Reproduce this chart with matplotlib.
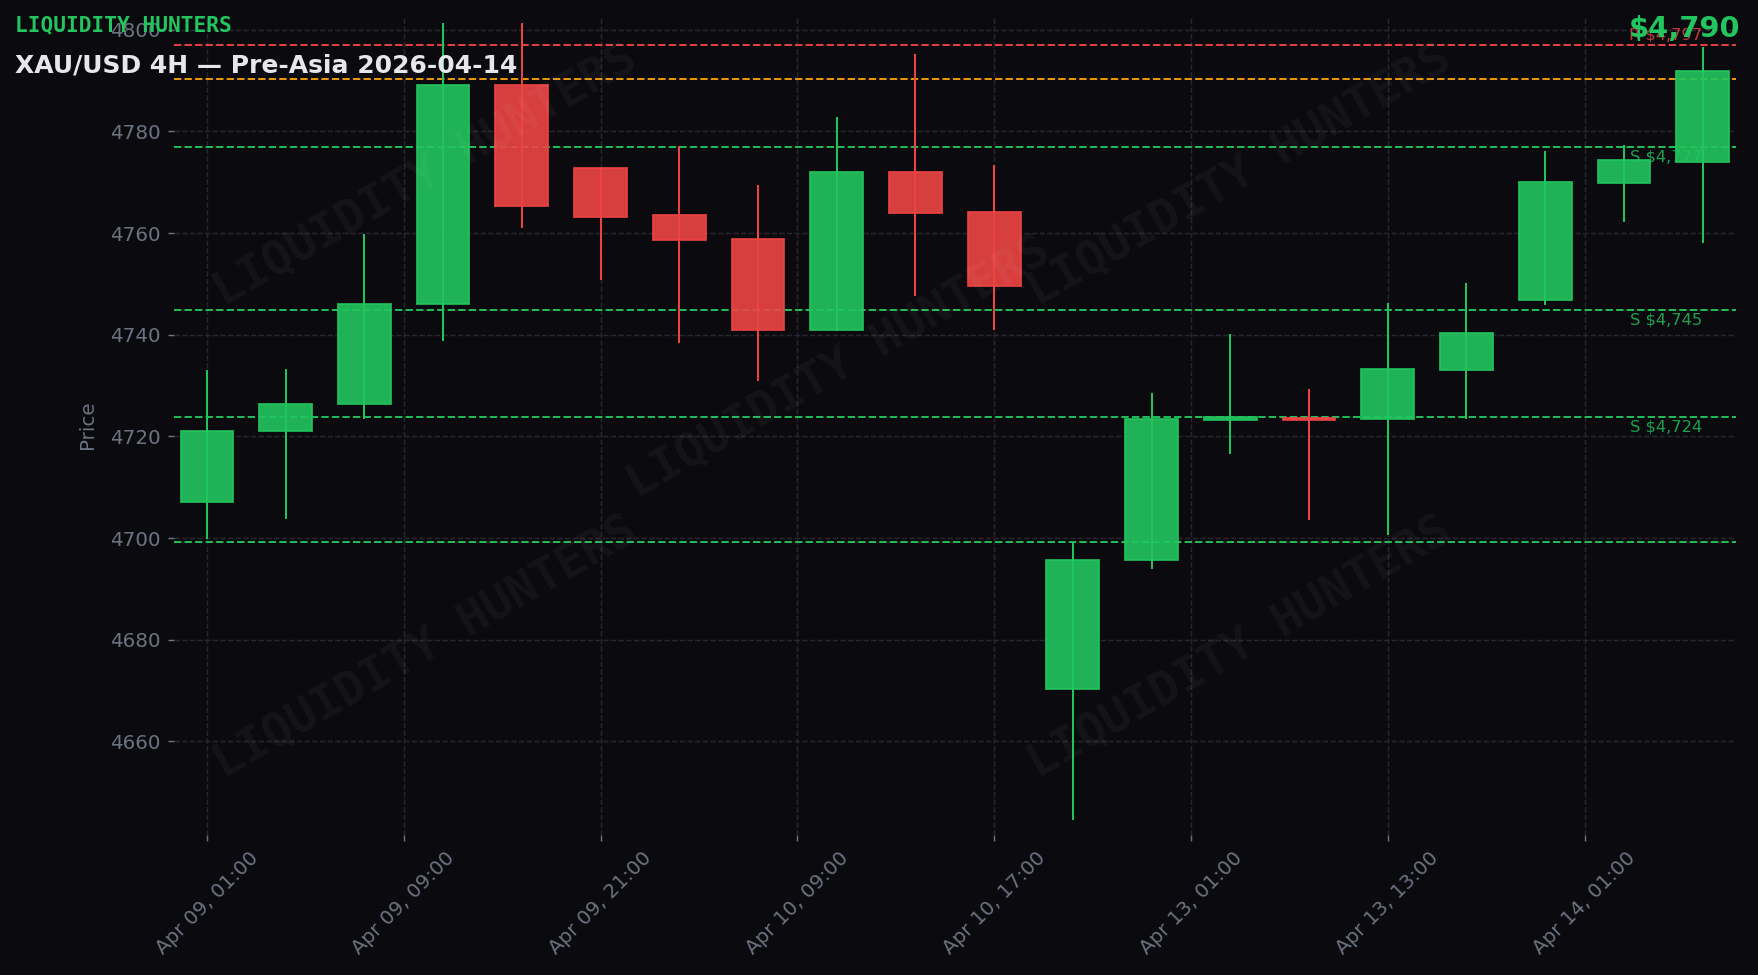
import matplotlib
matplotlib.use("Agg")
import matplotlib.pyplot as plt
from matplotlib.patches import Rectangle
from matplotlib.ticker import MultipleLocator, FuncFormatter

# 4H candles, XAU/USD (weekend gap removed, integer x positions)
times = [
    "Apr 09, 01:00", "Apr 09, 05:00", "Apr 09, 09:00", "Apr 09, 13:00",
    "Apr 09, 17:00", "Apr 09, 21:00", "Apr 10, 01:00", "Apr 10, 05:00",
    "Apr 10, 09:00", "Apr 10, 13:00", "Apr 10, 17:00", "Apr 10, 21:00",
    "Apr 13, 01:00", "Apr 13, 05:00", "Apr 13, 09:00", "Apr 13, 13:00",
    "Apr 13, 17:00", "Apr 13, 21:00", "Apr 14, 01:00", "Apr 14, 05:00",
]
opens = [4707.1, 4721.0, 4726.3, 4746.1, 4789.2, 4772.9, 4763.5, 4758.8, 4741.0, 4772.0,
         4764.1, 4670.3, 4695.7, 4723.2, 4723.6, 4723.4, 4733.0, 4746.9, 4769.8, 4774.0]
highs = [4733.1, 4733.3, 4759.9, 4801.3, 4801.3, 4772.9, 4777.1, 4769.4, 4782.8, 4795.2,
         4773.4, 4699.2, 4728.5, 4740.1, 4729.3, 4746.3, 4750.2, 4776.2, 4777.3, 4796.7]
lows = [4699.8, 4703.8, 4723.4, 4738.8, 4761.0, 4750.7, 4738.4, 4730.9, 4740.8, 4747.6,
        4741.0, 4644.6, 4693.9, 4716.6, 4703.6, 4700.7, 4723.5, 4745.9, 4762.1, 4758.0]
closes = [4721.0, 4726.3, 4746.1, 4789.2, 4765.4, 4763.2, 4758.6, 4741.0, 4772.0, 4763.9,
          4749.6, 4695.7, 4723.4, 4723.8, 4723.2, 4733.3, 4740.3, 4770.1, 4774.4, 4791.9]

resistance = [4797.1]
supports = [4777.0, 4744.9, 4723.9]
extra_support = [4699.2]
current_price = 4790.4

BG = "#0b0b0f"
UP = "#22c55e"
DOWN = "#ef4444"
ORANGE = "#f59e0b"
TICK = "#6b7280"
GRID = "#2a2a33"

fig = plt.figure(figsize=(1758 / 130, 975 / 130), dpi=130, facecolor=BG)
ax = fig.add_axes([0.0989, 0.1437, 0.8884, 0.8403])
ax.set_facecolor(BG)

# candles
body_w = 0.67
for i, (o, h, l, c) in enumerate(zip(opens, highs, lows, closes)):
    col = UP if c >= o else DOWN
    ax.vlines(i, l, h, color=col, linewidth=1.1, zorder=3)
    lo = min(o, c)
    ht = max(abs(c - o), 0.25)
    ax.add_patch(Rectangle((i - body_w / 2, lo), body_w, ht, facecolor=col, alpha=0.9,
                           edgecolor=col, linewidth=1.0, zorder=4))

# key levels
for lv in resistance:
    ax.axhline(lv, color=DOWN, linestyle="--", linewidth=1.1, alpha=0.95, zorder=2)
    ax.text(len(times) - 1, lv + 0.5, f"R ${lv:,.0f}", color=DOWN, alpha=0.8,
            fontsize=9, ha="right", va="bottom", zorder=5)
ax.axhline(current_price, color=ORANGE, linestyle="--", linewidth=1.1, alpha=0.95, zorder=2)
for lv in supports:
    ax.axhline(lv, color=UP, linestyle="--", linewidth=1.1, alpha=0.95, zorder=2)
    ax.text(len(times) - 1, lv - 0.6, f"S ${lv:,.0f}", color=UP, alpha=0.8,
            fontsize=9, ha="right", va="top", zorder=5)
for lv in extra_support:
    ax.axhline(lv, color=UP, linestyle="--", linewidth=1.1, alpha=0.95, zorder=2)

ax.set_xlim(-0.42, len(times) - 1 + 0.42)
ax.set_ylim(4641.6, 4802.8)

ax.xaxis.set_major_locator(MultipleLocator(2.5))
ax.xaxis.set_major_formatter(FuncFormatter(
    lambda x, pos: times[int(round(x))] if 0 <= round(x) < len(times) else ""))
ax.yaxis.set_major_locator(MultipleLocator(20))
ax.tick_params(axis="both", colors=TICK, labelsize=11, length=3.5, width=0.8, pad=4)
plt.setp(ax.get_xticklabels(), rotation=45, ha="center")
ax.set_ylabel("Price", color=TICK, fontsize=11)
ax.yaxis.set_label_coords(-0.049, 0.5)
ax.grid(True, color=GRID, linestyle="--", linewidth=0.8, alpha=0.9, zorder=0)
for sp in ax.spines.values():
    sp.set_visible(False)

# watermark
for wx, wy in [(0.242, 0.82), (0.705, 0.82), (0.477, 0.623), (0.242, 0.336), (0.705, 0.336)]:
    fig.text(wx, wy, "LIQUIDITY HUNTERS", family="DejaVu Sans Mono", weight="bold",
             fontsize=26, color="white", alpha=0.045, rotation=30,
             ha="center", va="center", zorder=1)

fig.text(0.0083, 0.9736, "LIQUIDITY HUNTERS", family="DejaVu Sans Mono", weight="bold",
         fontsize=11.7, color=UP, ha="left", va="center")
fig.text(0.0083, 0.933, "XAU/USD 4H \u2014 Pre-Asia 2026-04-14", weight="bold",
         fontsize=13.85, color="#e5e7eb", ha="left", va="center")
fig.text(0.990, 0.970, f"${current_price:,.0f}", weight="bold", fontsize=16,
         color=UP, ha="right", va="center")

fig.savefig("out.png", dpi=130, facecolor=BG)
